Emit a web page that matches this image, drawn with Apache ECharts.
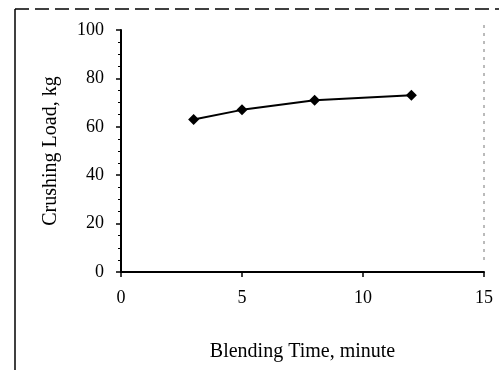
<!DOCTYPE html>
<html><head><meta charset="utf-8">
<script src="https://cdn.jsdelivr.net/npm/echarts@6/dist/echarts.min.js"></script>
<style>html,body{margin:0;padding:0;background:#fff}#c{width:499px;height:377px}</style>
</head><body><div id="c"></div>
<script>
var blendingTime = [3, 5, 8, 12];
var crushingLoad = [63, 67, 71, 73];
var xTicks = [0, 5, 10, 15];
var yTicks = [0, 20, 40, 60, 80, 100];

var chart = echarts.init(document.getElementById('c'), null, {renderer: 'canvas'});
var font = 'Liberation Serif';
chart.setOption({
  animation: false,
  backgroundColor: '#fff',
  grid: {left: 121, right: 15, top: 30, bottom: 105},
  xAxis: {
    type: 'value', min: 0, max: 15, interval: 5,
    name: 'Blending Time, minute', nameLocation: 'middle', nameGap: 70,
    nameTextStyle: {fontFamily: font, fontSize: 20, color: '#000', verticalAlign: 'top'},
    axisLine: {show: true, lineStyle: {color: '#000', width: 2}},
    axisTick: {show: true, length: 5, lineStyle: {color: '#000', width: 1.5}},
    axisLabel: {fontFamily: font, fontSize: 18, color: '#000', margin: 17},
    splitLine: {show: false}
  },
  yAxis: {
    type: 'value', min: 0, max: 100, interval: 20,
    name: 'Crushing Load, kg', nameLocation: 'middle', nameGap: 60,
    nameTextStyle: {fontFamily: font, fontSize: 20, color: '#000'},
    axisLine: {show: true, lineStyle: {color: '#000', width: 2}},
    axisTick: {show: true, length: 5, lineStyle: {color: '#000', width: 1.5}},
    minorTick: {show: true, splitNumber: 4, length: 3, lineStyle: {color: '#000', width: 1}},
    axisLabel: {fontFamily: font, fontSize: 18, color: '#000', margin: 17},
    splitLine: {show: false}
  },
  graphic: [
    {type: 'line', shape: {x1: 15, y1: 9, x2: 499, y2: 9}, style: {stroke: '#000', lineWidth: 1.5, lineDash: [14, 6]}},
    {type: 'line', shape: {x1: 15, y1: 9, x2: 15, y2: 370}, style: {stroke: '#000', lineWidth: 1.5}},
    {type: 'line', shape: {x1: 484, y1: 25, x2: 484, y2: 265}, style: {stroke: '#777', lineWidth: 1, lineDash: [3, 5]}}
  ],
  series: [{
    type: 'line',
    data: blendingTime.map(function (t, i) { return [t, crushingLoad[i]]; }),
    symbol: 'diamond', symbolSize: 11,
    lineStyle: {color: '#000', width: 2},
    itemStyle: {color: '#000'}
  }]
});
</script></body></html>
